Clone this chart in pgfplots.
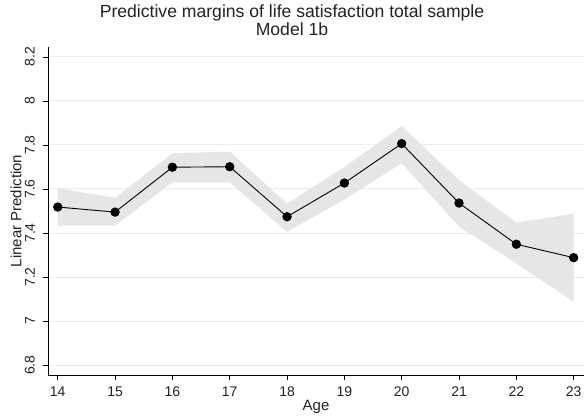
\documentclass[border=0pt]{standalone}
\usepackage{pgfplots}
\pgfplotsset{compat=1.18}
\usepackage{fontspec}
\setmainfont{Liberation Sans}
\definecolor{bandgray}{HTML}{E5E6E8}
\definecolor{gridgray}{HTML}{ECECEC}
\definecolor{txt}{HTML}{222222}
\begin{document}
\begin{tikzpicture}
\begin{axis}[
    name=main,
    scale only axis,
    width=536pt, height=328pt,
    xmin=13.83, xmax=23.18,
    ymin=6.755, ymax=8.245,
    axis x line*=bottom, axis y line*=left,
    axis line style={line width=0.9pt, -},
    xtick={14,...,23},
    ytick={6.8,7,7.2,7.4,7.6,7.8,8,8.2},
    yticklabels={6.8,7,7.2,7.4,7.6,7.8,8,8.2},
    tick align=outside,
    major tick length=5pt,
    tick style={line width=0.7pt, black},
    ymajorgrids=true,
    grid style={gridgray, line width=1pt},
    ticklabel style={font=\fontsize{14}{16}\selectfont, inner sep=0pt, text=txt},
    xticklabel style={anchor=north, yshift=-6.7pt},
    yticklabel style={rotate=90, anchor=south, yshift=8pt},
    /pgf/number format/assume math mode=true,
    xlabel={Age},
    ylabel={Linear Prediction},
    label style={font=\fontsize{15}{16}\selectfont, inner sep=0pt, text=txt},
    xlabel style={at={(axis description cs:0.5,0)}, anchor=base, yshift=-35.7pt},
    ylabel style={at={(axis description cs:0,0.5)}, anchor=base, yshift=26.5pt},
    title={Predictive margins of life satisfaction total sample\\Model 1b},
    title style={font=\fontsize{17.6}{17.7}\selectfont, align=center, inner sep=0pt,
        text=txt, at={(axis description cs:0.5,1)}, anchor=south,
        xshift=-24pt, yshift=5.3pt},
    clip=false,
]
% confidence band: upper bounds 14..23, then lower bounds 23..14
\addplot[fill=bandgray, draw=none] coordinates {
(14,7.603) (15,7.560) (16,7.762) (17,7.770) (18,7.534)
(19,7.700) (20,7.886) (21,7.640) (22,7.447) (23,7.488)
(23,7.088) (22,7.262) (21,7.429) (20,7.717) (19,7.552)
(18,7.405) (17,7.630) (16,7.630) (15,7.433) (14,7.433)
} -- cycle;

\addplot[black, line width=0.9pt, mark=*, mark size=4.2pt] coordinates {
(14,7.518) (15,7.495) (16,7.699) (17,7.701) (18,7.474)
(19,7.627) (20,7.806) (21,7.536) (22,7.349) (23,7.288)
};
\end{axis}
\pgfresetboundingbox
\path[use as bounding box] ([xshift=-48pt,yshift=-42pt]main.south west)
    rectangle ([yshift=47pt]main.north east);
\end{tikzpicture}
\end{document}
